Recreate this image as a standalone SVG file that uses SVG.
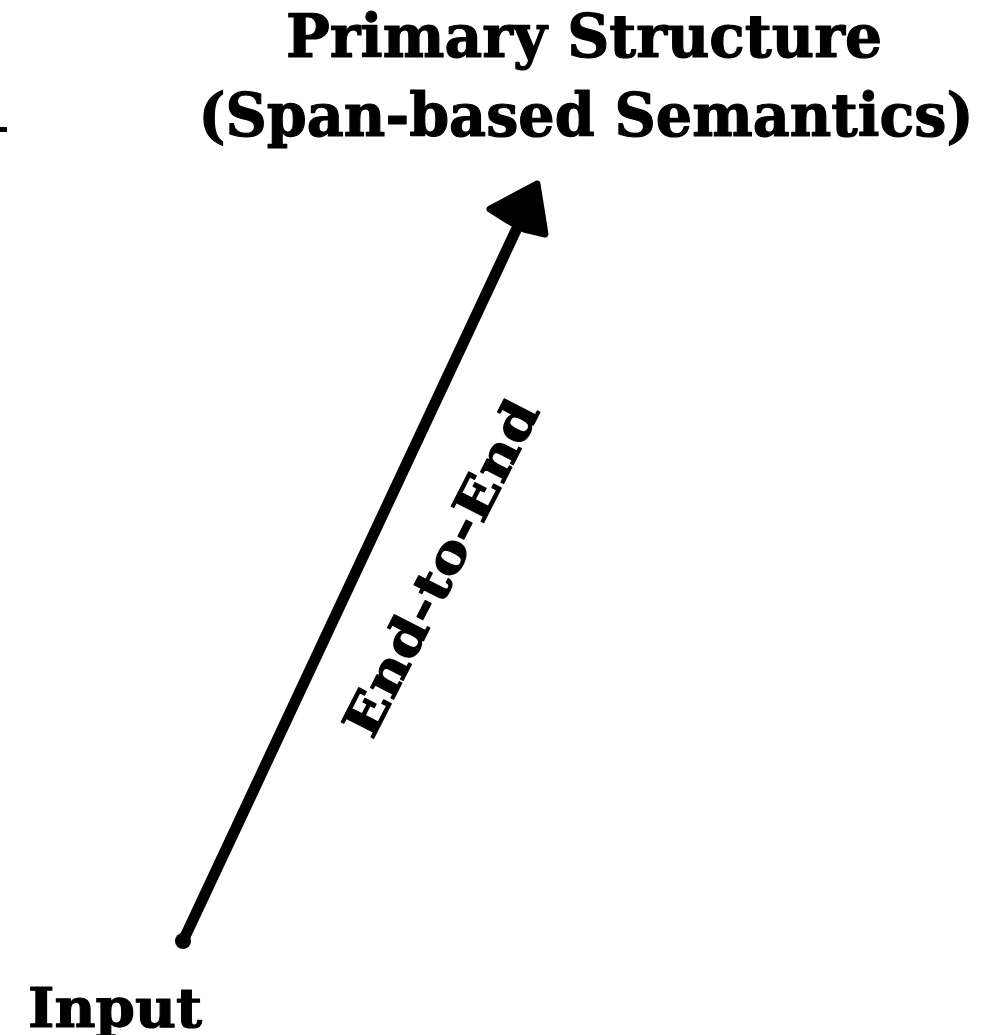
<svg xmlns="http://www.w3.org/2000/svg" width="1004" height="1035" viewBox="0 0 1004 1035">
  <style>
    .label { font-family: "DejaVu Serif", "Liberation Serif", serif; font-weight: bold; fill: #000; stroke: #000; stroke-width: 1.2; stroke-linejoin: round; }
    .edge { fill: none; stroke: #000; stroke-width: 11; stroke-linecap: round; stroke-linejoin: round; }
    .head { fill: #000; stroke: #000; stroke-width: 7; stroke-linejoin: round; }
  </style>
  <rect x="0" y="0" width="1004" height="1035" fill="#fff"/>

  <!-- stray tick at the left margin -->
  <rect x="0" y="127" width="7" height="5" fill="#000"/>

  <g id="node-primary">
    <text class="label" x="584" y="57" font-size="60" text-anchor="middle" textLength="596" lengthAdjust="spacingAndGlyphs">Primary Structure</text>
    <text class="label" x="586" y="136" font-size="60" text-anchor="middle" textLength="775" lengthAdjust="spacingAndGlyphs">(Span-based Semantics)</text>
  </g>

  <g id="node-input">
    <text class="label" x="28" y="1027" font-size="55" textLength="174" lengthAdjust="spacingAndGlyphs">Input</text>
  </g>

  <g id="connectors">
    <g id="edge-input-primary">
      <circle cx="183" cy="941" r="8" fill="#000"/>
      <path class="edge" d="M183,941 L517,228"/>
      <polygon class="head" points="537,184 490,209 509,221 524,229 545,234"/>
      <text class="label" transform="translate(441,568) rotate(-63)" font-size="50" text-anchor="middle" dominant-baseline="central" textLength="370" lengthAdjust="spacingAndGlyphs">End-to-End</text>
    </g>
  </g>
</svg>
